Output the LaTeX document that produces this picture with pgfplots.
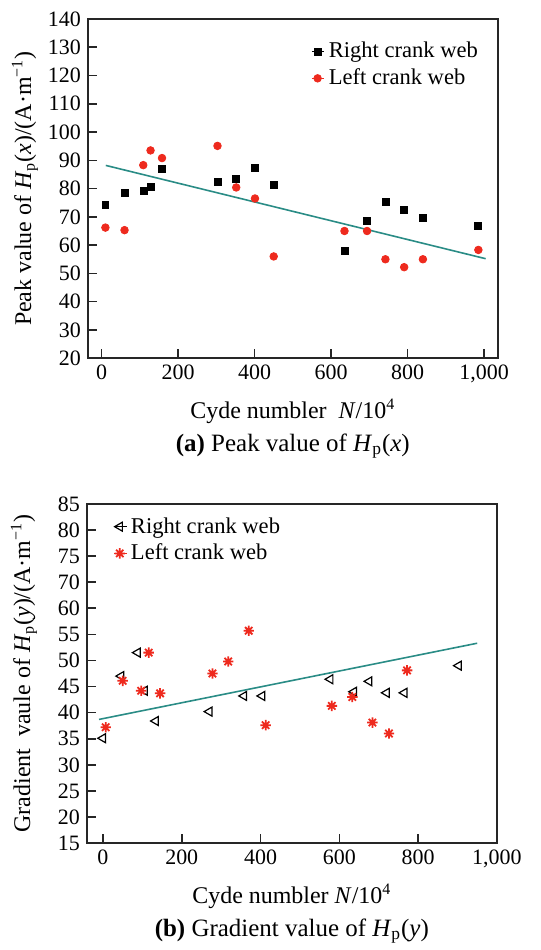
\documentclass[border=0pt]{standalone}
\usepackage{fontspec}
\setmainfont{Liberation Serif}
\usepackage{pgfplots}
\pgfplotsset{compat=1.18}
\definecolor{fitteal}{HTML}{2A8C86}
\definecolor{ptred}{HTML}{EE2A1E}

% eight-armed asterisk used for the left crank web in panel (b)
\pgfdeclareplotmark{ast8}{%
  \pgfpathmoveto{\pgfqpoint{-\pgfplotmarksize}{0pt}}%
  \pgfpathlineto{\pgfqpoint{\pgfplotmarksize}{0pt}}%
  \pgfpathmoveto{\pgfqpoint{0pt}{-\pgfplotmarksize}}%
  \pgfpathlineto{\pgfqpoint{0pt}{\pgfplotmarksize}}%
  \pgfpathmoveto{\pgfqpoint{-0.707\pgfplotmarksize}{-0.707\pgfplotmarksize}}%
  \pgfpathlineto{\pgfqpoint{0.707\pgfplotmarksize}{0.707\pgfplotmarksize}}%
  \pgfpathmoveto{\pgfqpoint{-0.707\pgfplotmarksize}{0.707\pgfplotmarksize}}%
  \pgfpathlineto{\pgfqpoint{0.707\pgfplotmarksize}{-0.707\pgfplotmarksize}}%
  \pgfusepathqstroke}

\pgfplotsset{
  panel/.style={
    scale only axis, width=205.5pt, height=170pt, anchor=south west,
    clip=false,
    axis line style={line width=0.8pt, black!85},
    tick align=inside, xtick pos=bottom, ytick pos=left,
    major tick length=4.5pt, tick style={line width=0.8pt, black!85},
    /pgf/number format/assume math mode=true,
    tick label style={font=\fontsize{11}{13}\selectfont},
    label style={font=\fontsize{12}{14}\selectfont},
    ylabel style={at={(rel axis cs:0,0.5)}, anchor=center, yshift=31.5pt},
    xlabel style={at={(rel axis cs:0.5,0)}, anchor=center, yshift=-26.5pt},
    legend style={draw=none, fill=none, anchor=north west,
      font=\fontsize{11.3}{13}\selectfont, row sep=0pt},
    legend cell align=left,
  },
  dotkey/.style={legend image code/.code={%
    \path (0cm,0cm) -- (0.22cm,0cm);
    \draw[##1] plot coordinates {(0.1cm,0cm)};}},
}

\begin{document}
\begin{tikzpicture}[font=\fontsize{12}{14}\selectfont]
\path (0,0) rectangle (271pt,-475pt);

% (a) peak value
\begin{axis}[panel, at={(44pt,-179.5pt)},
  xmin=-36, xmax=1036, ymin=20, ymax=140,
  xtick={0,200,...,1000}, ytick={20,30,...,140},
  xlabel={Cyde numbler\ \ \textit{N}/10\textsuperscript{4}},
  ylabel={Peak value of \textit{H}\textsubscript{p}(\textit{x})/(A·m\textsuperscript{−1})},
  legend style={at={(rel axis cs:0.53,0.956)}},
]
\addplot[only marks, mark=square*, mark size=1.75pt, black, dotkey] coordinates {
 (10,74.3) (60,78.6) (110,79.1) (128,80.5) (158,87) (303,82.4) (352,83.6)
 (401,87.2) (450,81.4) (635,58) (694,68.5) (742,75.2) (791,72.3) (840,69.8) (985,66.8)};
\addlegendentry{Right crank web}
\addplot[only marks, mark=*, mark size=1.9pt, ptred, dotkey] coordinates {
 (10,66.2) (60,65.3) (109,88.3) (128,93.5) (158,90.8) (303,95.1) (352,80.4)
 (401,76.5) (450,56) (635,65) (694,65) (742,55) (791,52.2) (840,55) (985,58.3)};
\addlegendentry{Left crank web}
\addplot[fitteal, line width=0.8pt, forget plot] coordinates {(11,88.2) (1004,55.2)};
\node[anchor=center, font=\fontsize{12.5}{14}\selectfont] at (rel axis cs:0.5,0) [yshift=-44pt]
  {\textbf{(a)} Peak value of \textit{H}\textsubscript{p}(\textit{x})};
\end{axis}

% (b) gradient value
\begin{axis}[panel, at={(43.5pt,-422.5pt)},
  xmin=-41, xmax=1000, ymin=15, ymax=80,
  xtick={0,200,...,1000}, ytick={15,20,...,80},
  yticklabels={15,20,25,30,35,40,45,50,55,60,70,75,80,85},
  xlabel={Cyde numbler \textit{N}/10\textsuperscript{4}},
  ylabel={Gradient\ \ vaule of \textit{H}\textsubscript{p}(\textit{y})/(A·m\textsuperscript{−1})},
  legend style={at={(rel axis cs:0.05,0.985)}},
]
\addplot[only marks, mark=triangle, mark size=2.6pt, mark options={rotate=90, line width=0.6pt}, black, dotkey] coordinates {
 (0,35.1) (46,47.0) (88,51.5) (106,44.2) (134,38.4) (270,40.2) (358,43.2)
 (404,43.2) (577,46.4) (637,44.0) (676,46.0) (720,43.8) (765,43.8) (903,49.0)};
\addlegendentry{Right crank web}
\addplot[only marks, mark=ast8, mark size=2.6pt, mark options={line width=0.9pt}, ptred, dotkey] coordinates {
 (7,37.2) (50,46.1) (97,44.2) (116,51.5) (145,43.7) (278,47.5) (318,49.8)
 (370,55.7) (413,37.6) (581,41.3) (633,43.0) (684,38.1) (726,36.0) (772,48.1)};
\addlegendentry{Left crank web}
\addplot[fitteal, line width=0.8pt, forget plot] coordinates {(-10,38.7) (950,53.3)};
\node[anchor=center, font=\fontsize{12.5}{14}\selectfont] at (rel axis cs:0.5,0) [yshift=-44pt]
  {\textbf{(b)} Gradient value of \textit{H}\textsubscript{p}(\textit{y})};
\end{axis}
\end{tikzpicture}
\end{document}
